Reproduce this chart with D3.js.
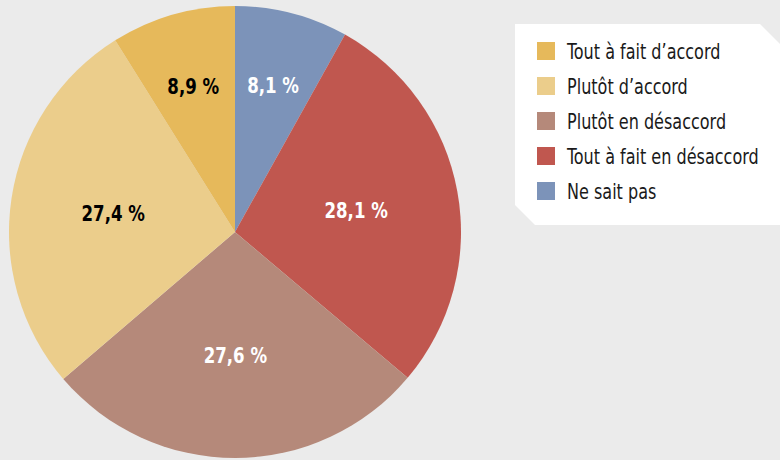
<!DOCTYPE html>
<html>
<head>
<meta charset="utf-8">
<script src="https://cdn.jsdelivr.net/npm/d3@7"></script>
<style>
  body { margin: 0; background: #ebebeb; }
  svg { display: block; }
  .lbl { font-family: "DejaVu Sans Condensed", "Liberation Sans Narrow", sans-serif; font-weight: bold; font-size: 22px; }
  .leg { font-family: "DejaVu Sans Condensed", "Liberation Sans Narrow", sans-serif; font-size: 21px; fill: #1a1a1a; }
</style>
</head>
<body>
<div id="chart"></div>
<script>
// categories in legend order
var categories = ['Tout à fait d’accord', 'Plutôt d’accord', 'Plutôt en désaccord', 'Tout à fait en désaccord', 'Ne sait pas'];
var values = [8.9, 27.4, 27.6, 28.1, 8.1];
var colors = ['#e6b95b', '#ebcd8b', '#b5897a', '#c0574f', '#7c93b9'];
var labelColors = ['#000', '#000', '#fff', '#fff', '#fff'];

var width = 780, height = 460;
var cx = 235, cy = 232, radius = 226;

var svg = d3.select('#chart').append('svg')
    .attr('width', width)
    .attr('height', height);

svg.append('rect').attr('width', width).attr('height', height).attr('fill', '#ebebeb');

// pie goes clockwise from 12 o'clock starting with the last category
var idx = d3.range(categories.length).reverse();
var pie = d3.pie()
    .sort(null)
    .value(function(i) { return values[i]; });

var arc = d3.arc().innerRadius(0).outerRadius(radius);

var g = svg.append('g').attr('transform', 'translate(' + cx + ',' + cy + ')');

var slices = g.selectAll('g.slice')
    .data(pie(idx))
    .enter().append('g').attr('class', 'slice');

slices.append('path')
    .attr('d', arc)
    .attr('fill', function(d) { return colors[d.data]; });

// small slices get their label further out; font squeezed to look condensed
slices.append('text')
    .attr('class', 'lbl')
    .attr('text-anchor', 'middle')
    .attr('dy', '0.36em')
    .attr('transform', function(d) {
        var a = (d.startAngle + d.endAngle) / 2;
        var r = values[d.data] < 15 ? radius * 0.67 : radius * 0.545;
        return 'translate(' + (r * Math.sin(a)) + ',' + (-r * Math.cos(a)) + ') scale(0.84,1)';
    })
    .style('fill', function(d) { return labelColors[d.data]; })
    .text(function(d) { return String(values[d.data]).replace('.', ',') + ' %'; });

// legend box with two cut corners
var lx = 515, ly = 24, lw = 265, lh = 201, cut = 20;
svg.append('path')
    .attr('d', 'M' + lx + ',' + ly + 'H' + (lx + lw - cut) + 'L' + (lx + lw) + ',' + (ly + cut) +
        'V' + (ly + lh) + 'H' + (lx + cut) + 'L' + lx + ',' + (ly + lh - cut) + 'Z')
    .attr('fill', '#fff');

var leg = svg.append('g').selectAll('g')
    .data(categories)
    .enter().append('g')
    .attr('transform', function(d, i) { return 'translate(537,' + (42 + i * 35) + ')'; });

leg.append('rect')
    .attr('width', 18).attr('height', 18)
    .attr('fill', function(d, i) { return colors[i]; });

leg.append('text')
    .attr('class', 'leg')
    .attr('transform', 'translate(30,9) scale(0.85,1)')
    .attr('dy', '0.36em')
    .text(function(d) { return d; });
</script>
</body>
</html>
